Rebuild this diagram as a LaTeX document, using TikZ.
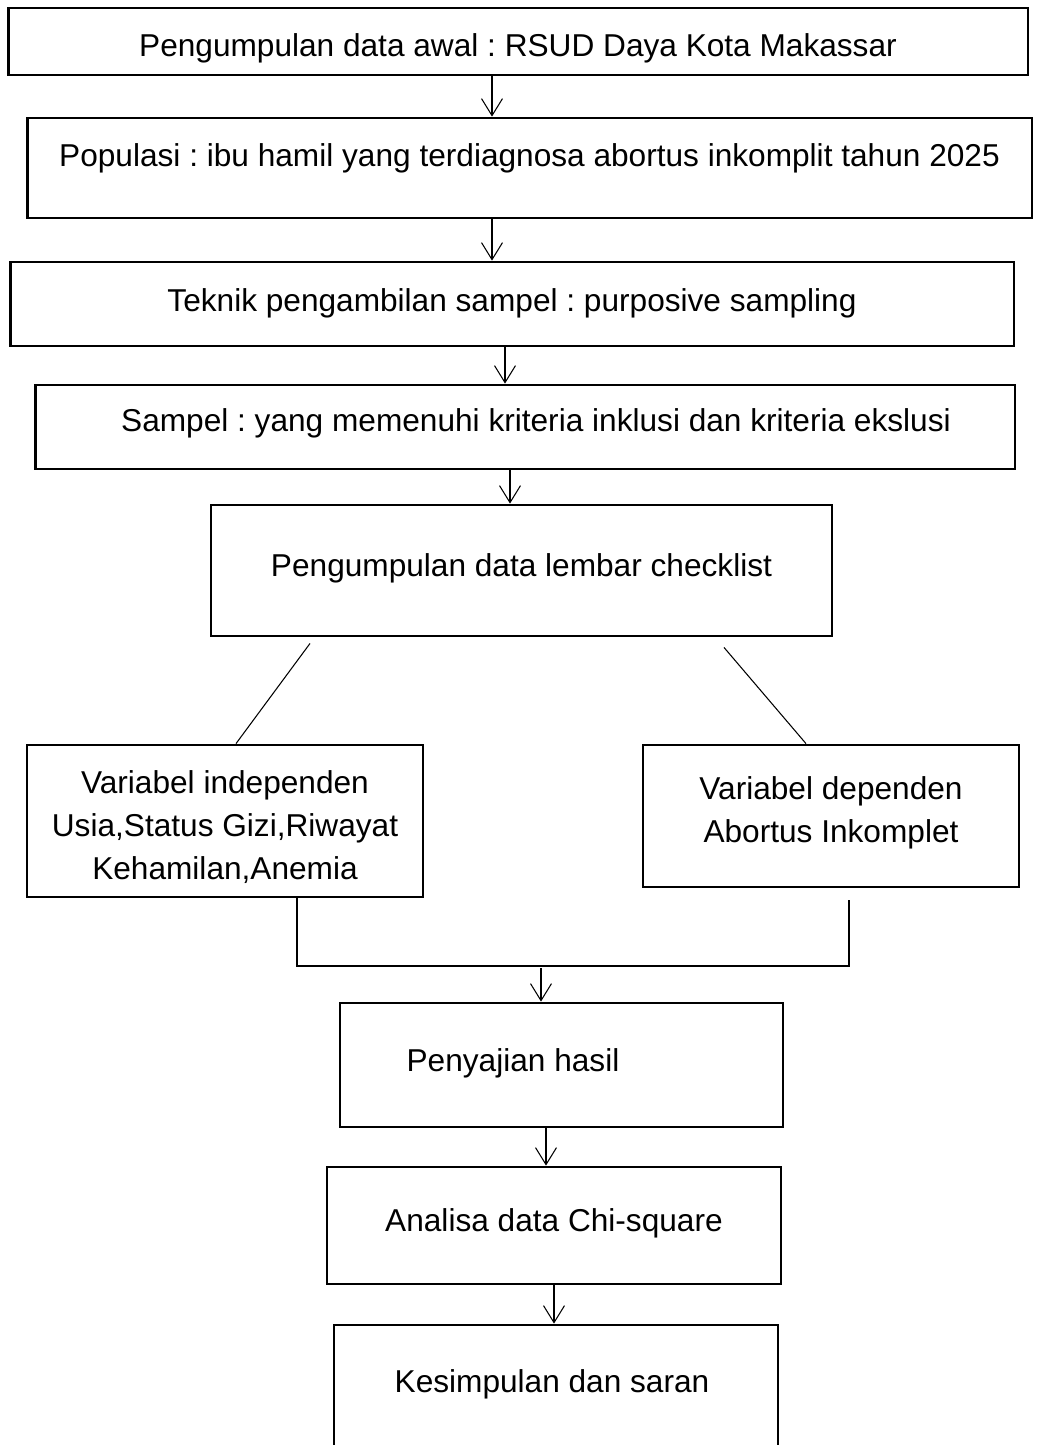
\documentclass[tikz,border=0pt]{standalone}
\usepackage{fontspec}
\setmainfont{Liberation Sans}
\frenchspacing
\usetikzlibrary{arrows.meta}

\begin{document}
\begin{tikzpicture}[
        x=0.02cm, y=-0.02cm,
        box/.style={draw, line width=1.6pt, inner sep=0pt},
        txt/.style={font=\fontsize{18}{24.4}\selectfont, align=center},
        arrow/.style={-{Straight Barb[length=0.34cm, width=0.42cm]}, line width=0.6pt},
        link/.style={line width=0.6pt}
    ]
        \useasboundingbox (0,0) rectangle (1036,1445);

        \node[box, minimum width=20.4cm, minimum height=1.34cm, label={[txt, yshift=-0.13cm]center:{Pengumpulan data awal : RSUD Daya Kota Makassar}}] (awal) at (518,41.5) {};
        \node[box, minimum width=20.1cm, minimum height=2.0cm, label={[txt, yshift=0.2cm]center:{Populasi : ibu hamil yang terdiagnosa abortus inkomplit tahun 2025}}] (pop) at (529.5,168) {};
        \node[box, minimum width=20.08cm, minimum height=1.68cm, label={[txt, yshift=0.02cm]center:{Teknik pengambilan sampel : purposive sampling}}] (teknik) at (512,304) {};
        \node[box, minimum width=19.6cm, minimum height=1.68cm, label={[txt, xshift=0.22cm, yshift=0.08cm]center:{Sampel : yang memenuhi kriteria inklusi dan kriteria ekslusi}}] (sampel) at (525,427) {};
        \node[box, minimum width=12.42cm, minimum height=2.62cm, label={[txt, yshift=0.05cm]center:{Pengumpulan data lembar checklist}}] (check) at (521.5,570.5) {};
        \node[box, minimum width=7.92cm, minimum height=3.04cm, label={[txt, yshift=-0.12cm]center:{Variabel independen\\Usia,Status Gizi,Riwayat\\Kehamilan,Anemia}}] (indep) at (225,821) {};
        \node[box, minimum width=7.52cm, minimum height=2.84cm, label={[txt, yshift=0.06cm]center:{Variabel dependen\\Abortus Inkomplet}}] (dep) at (831,816) {};
        \node[box, minimum width=8.86cm, minimum height=2.48cm, label={[txt, xshift=-0.97cm, yshift=0.04cm]center:{Penyajian hasil}}] (hasil) at (561.5,1065) {};
        \node[box, minimum width=9.08cm, minimum height=2.34cm, label={[txt, yshift=0.04cm]center:{Analisa data Chi-square}}] (analisa) at (554,1225.5) {};
        \node[box, minimum width=8.88cm, minimum height=2.7cm, label={[txt, xshift=-0.08cm, yshift=0.17cm]center:{Kesimpulan dan saran}}] (simpul) at (556,1392.5) {};

        % alur utama
        \draw[arrow] ([xshift=-0.52cm]awal.south) -- ([xshift=-0.52cm]awal.south |- pop.north);
        \draw[arrow] ([xshift=-0.75cm]pop.south) -- ([xshift=-0.75cm]pop.south |- teknik.north);
        \draw[arrow] ([xshift=-0.14cm]teknik.south) -- ([xshift=-0.14cm]teknik.south |- sampel.north);
        \draw[arrow] ([xshift=-0.3cm]sampel.south) -- ([xshift=-0.3cm]sampel.south |- check.north);

        % cabang variabel
        \draw[link] ([shift={(-4.23cm,-0.12cm)}]check.south) -- ([xshift=0.22cm]indep.north);
        \draw[link] ([shift={(4.05cm,-0.2cm)}]check.south) -- ([xshift=-0.5cm]dep.north);

        % gabung ke penyajian
        \coordinate (gabung) at (541,966);
        \draw[link] ([xshift=1.44cm]indep.south) |- (gabung) -| ([shift={(0.36cm,-0.24cm)}]dep.south);
        \draw[arrow] ([yshift=-0.04cm]gabung) -- (gabung |- hasil.north);

        \draw[arrow] ([xshift=-0.31cm]hasil.south) -- ([xshift=-0.31cm]hasil.south |- analisa.north);
        \draw[arrow] (analisa.south) -- (analisa.south |- simpul.north);
    \end{tikzpicture}
\end{document}
